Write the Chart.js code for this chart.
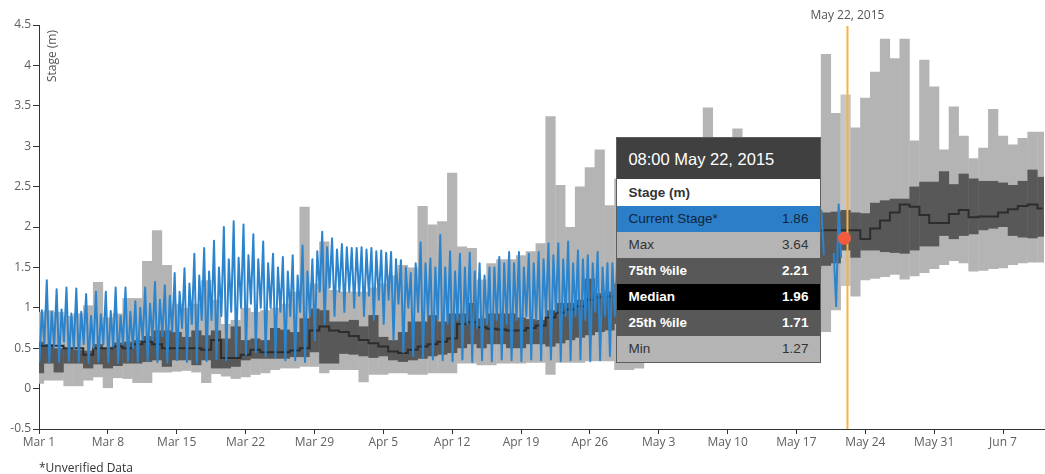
<!DOCTYPE html>
<html>
<head>
<meta charset="utf-8">
<script src="https://cdn.jsdelivr.net/npm/chart.js@4.4.1/dist/chart.umd.min.js"></script>
<style>
    html, body { margin: 0; padding: 0; background: #fff; }
    #wrap { position: relative; width: 1045px; height: 474px; }
    #stageTip {
        position: absolute; display: none; width: 203px;
        border: 1px solid #5e5e5e; background: #fff;
        font-family: "Liberation Sans", Arial, sans-serif; font-size: 13.5px;
    }
    #stageTip .head { background: #404040; color: #fff; font-size: 16.5px; height: 41px; line-height: 43px; padding-left: 11px; }
    #stageTip .unit { background: #fff; color: #333; font-weight: bold; height: 27px; line-height: 27px; padding-left: 11px; }
    #stageTip .row { display: flex; justify-content: space-between; height: 26px; line-height: 26px; padding: 0 12px 0 11px; }
    #stageTip .cur { background: #2b7fc9; color: #13243a; }
    #stageTip .light { background: #b4b4b4; color: #333; }
    #stageTip .dark { background: #585858; color: #fff; font-weight: bold; }
    #stageTip .black { background: #000; color: #fff; font-weight: bold; }
</style>
</head>
<body>
<div id="wrap">
    <canvas id="stageChart" width="1045" height="474"></canvas>
    <div id="stageTip"></div>
</div>
<script>
// daily statistics, one value per day starting Mar 1 2015 (m)
const maxStage = [
    0.95, 0.97, 0.95, 0.9, 0.93, 1.03, 1.32, 0.88, 0.93, 1.12,
    1.12, 1.58, 1.96, 1.53, 1.05, 1.0, 1.05, 1.34, 1.1, 0.8,
    0.85, 1.0, 0.95, 0.97, 1.0, 1.05, 1.2, 2.25, 1.3, 1.82,
    1.22, 1.2, 1.2, 1.2, 1.25, 1.3, 1.4, 1.53, 1.5, 2.26,
    2.03, 2.07, 2.67, 1.76, 1.74, 1.35, 1.55, 1.6, 1.6, 1.65,
    1.7, 1.8, 3.37, 2.52, 2.0, 2.5, 2.74, 2.96, 2.27, 2.6,
    2.4, 2.8, 2.5, 2.3, 2.9, 2.6, 2.4, 2.7, 3.48, 2.9,
    2.6, 3.22, 2.8, 2.5, 2.6, 2.9, 2.7, 2.8, 3.0, 2.9,
    4.14, 3.41, 3.64, 3.23, 3.6, 3.92, 4.33, 4.09, 4.33, 3.07,
    4.07, 3.74, 2.96, 3.49, 3.13, 2.85, 2.98, 3.46, 3.13, 3.02,
    3.1, 3.18, 3.18
];
const p75Stage = [
    0.58, 0.55, 0.5, 0.5, 0.48, 0.47, 0.55, 0.5, 0.57, 0.58,
    0.6, 0.65, 0.72, 0.72, 0.7, 0.64, 0.72, 0.66, 0.72, 0.62,
    0.77, 0.6, 0.62, 0.6, 0.75, 0.73, 0.7, 0.87, 0.99, 0.97,
    0.83, 0.83, 0.85, 0.77, 0.91, 0.64, 0.6, 0.7, 0.83, 0.83,
    0.91, 0.83, 0.93, 0.93, 1.06, 0.87, 0.93, 0.93, 0.93, 0.88,
    0.86, 0.85, 0.97, 1.06, 1.06, 1.1, 1.36, 1.18, 1.2, 1.3,
    1.35, 1.4, 1.45, 1.5, 1.55, 1.6, 1.6, 1.65, 1.75, 1.8,
    1.8, 1.9, 1.95, 1.95, 2.0, 2.05, 2.1, 2.1, 2.15, 2.2,
    2.18, 2.19, 2.21, 2.18, 2.17, 2.3, 2.33, 2.35, 2.35, 2.5,
    2.56, 2.56, 2.69, 2.53, 2.66, 2.6, 2.57, 2.57, 2.55, 2.52,
    2.57, 2.71, 2.62
];
const medianStage = [
    0.53, 0.53, 0.53, 0.5, 0.5, 0.42, 0.5, 0.5, 0.52, 0.5,
    0.55, 0.58, 0.55, 0.5, 0.5, 0.5, 0.5, 0.48, 0.6, 0.38,
    0.38, 0.42, 0.48, 0.45, 0.45, 0.45, 0.47, 0.5, 0.72, 0.77,
    0.72, 0.7, 0.65, 0.6, 0.56, 0.52, 0.46, 0.44, 0.48, 0.52,
    0.55, 0.58, 0.62, 0.8, 0.82, 0.76, 0.74, 0.73, 0.72, 0.72,
    0.75, 0.78, 0.88, 0.94, 0.98, 1.02, 1.1, 1.13, 1.14, 1.15,
    1.18, 1.2, 1.25, 1.3, 1.35, 1.38, 1.4, 1.45, 1.5, 1.55,
    1.6, 1.65, 1.7, 1.72, 1.75, 1.8, 1.85, 1.88, 1.92, 1.95,
    1.96, 1.96, 1.96, 1.96, 1.85, 1.98, 2.08, 2.18, 2.28, 2.25,
    2.15, 2.05, 2.05, 2.16, 2.21, 2.12, 2.13, 2.13, 2.18, 2.22,
    2.26, 2.28, 2.23
];
const p25Stage = [
    0.19, 0.31, 0.2, 0.31, 0.31, 0.25, 0.3, 0.25, 0.28, 0.31,
    0.31, 0.33, 0.35, 0.27, 0.35, 0.35, 0.29, 0.35, 0.25, 0.25,
    0.27, 0.35, 0.37, 0.37, 0.37, 0.37, 0.39, 0.39, 0.45, 0.31,
    0.31, 0.43, 0.42, 0.4, 0.38, 0.4, 0.35, 0.33, 0.35, 0.37,
    0.4, 0.42, 0.44, 0.5, 0.55, 0.5, 0.55, 0.55, 0.5, 0.5,
    0.55, 0.55, 0.52, 0.56, 0.6, 0.63, 0.66, 0.7, 0.72, 0.8,
    0.85, 0.9, 0.95, 1.0, 1.02, 1.05, 1.1, 1.12, 1.15, 1.2,
    1.22, 1.25, 1.3, 1.32, 1.35, 1.38, 1.4, 1.42, 1.45, 1.48,
    1.52, 1.55, 1.71, 1.62, 1.71, 1.71, 1.69, 1.68, 1.67, 1.71,
    1.76, 1.76, 1.89, 1.85, 1.89, 1.91, 1.96, 1.98, 2.0, 1.89,
    1.87, 1.86, 1.88
];
const minStage = [
    0.06, 0.1, 0.1, 0.03, 0.03, 0.1, 0.14, 0.0, 0.13, 0.12,
    0.07, 0.07, 0.2, 0.2, 0.21, 0.22, 0.2, 0.07, 0.18, 0.15,
    0.12, 0.14, 0.17, 0.19, 0.23, 0.25, 0.25, 0.27, 0.27, 0.19,
    0.23, 0.23, 0.23, 0.08, 0.17, 0.17, 0.19, 0.19, 0.17, 0.17,
    0.19, 0.19, 0.19, 0.31, 0.31, 0.29, 0.29, 0.31, 0.31, 0.31,
    0.32, 0.32, 0.17, 0.32, 0.32, 0.32, 0.34, 0.34, 0.34, 0.23,
    0.23, 0.25, 0.36, 0.38, 0.4, 0.42, 0.42, 0.45, 0.45, 0.48,
    0.5, 0.5, 0.52, 0.55, 0.55, 0.58, 0.6, 0.62, 0.65, 0.68,
    0.7, 0.97, 1.27, 1.14, 1.34, 1.36, 1.38, 1.41, 1.35, 1.39,
    1.43, 1.48, 1.53, 1.58, 1.55, 1.45, 1.46, 1.48, 1.49, 1.53,
    1.55, 1.56, 1.56
];

// current stage readings: four per day (01:00, 07:00, 13:00, 19:00)
const readHours = [1, 7, 13, 19];
const tideLowA = [
    0.33, 0.32, 0.33, 0.34, 0.33, 0.32, 0.34, 0.33, 0.32, 0.34,
    0.33, 0.34, 0.33, 0.32, 0.35, 0.33, 0.32, 0.34, 0.36, 0.35,
    0.4, 0.42, 0.45, 0.4, 0.38, 0.35, 0.35, 0.33, 0.6, 0.8,
    0.9, 0.95, 1.0, 0.9, 0.85, 0.8, 0.6, 0.45, 0.4, 0.38,
    0.36, 0.35, 0.34, 0.36, 0.33, 0.35, 0.34, 0.36, 0.35, 0.34,
    0.36, 0.35, 0.36, 0.34, 0.35, 0.36, 0.34, 0.35, 0.4, 0.45,
    0.5, 0.55, 0.5, 0.6, 0.65, 0.6, 0.7, 0.75, 0.7, 0.8,
    0.8, 0.85, 0.8, 0.9, 0.95, 0.9, 1.0, 0.95, 1.05, 1.2,
    null, 1.02
];
const tideHighB = [
    0.97, 0.95, 0.98, 0.93, 0.95, 0.9, 0.92, 0.96, 0.9, 0.95,
    1.0, 1.05, 1.1, 1.15, 1.2, 1.3, 1.4, 1.45, 1.5, 1.6,
    1.62, 1.65, 1.6, 1.55, 1.5, 1.45, 1.4, 1.45, 1.7, 1.75,
    1.72, 1.75, 1.74, 1.72, 1.7, 1.68, 1.6, 1.5, 1.55, 1.55,
    1.5, 1.5, 1.45, 1.5, 1.45, 1.4, 1.5, 1.55, 1.55, 1.5,
    1.55, 1.6, 1.65, 1.6, 1.55, 1.6, 1.55, 1.5, 1.55, 1.6,
    1.65, 1.7, 1.6, 1.75, 1.8, 1.7, 1.85, 1.9, 1.8, 1.95,
    1.9, 2.0, 1.85, 1.95, 2.0, 2.0, 2.1, 2.0, 2.1, 1.9,
    null, 2.28
];
const tideLowB = [
    0.55, 0.52, 0.58, 0.5, 0.55, 0.5, 0.55, 0.52, 0.55, 0.5,
    0.6, 0.6, 0.65, 0.7, 0.75, 0.8, 0.85, 0.85, 0.9, 0.95,
    1.0, 1.05, 1.0, 1.0, 0.95, 0.9, 0.95, 0.9, 1.2, 1.25,
    1.2, 1.2, 1.15, 1.15, 1.1, 1.1, 1.05, 1.0, 0.95, 0.9,
    0.85, 0.8, 0.85, 0.8, 0.75, 0.8, 0.85, 0.8, 0.85, 0.9,
    0.85, 0.9, 0.95, 0.9, 0.9, 0.85, 0.95, 0.9, 0.9, 0.9,
    0.95, 1.0, 0.95, 1.05, 1.1, 1.05, 1.15, 1.2, 1.15, 1.25,
    1.25, 1.3, 1.25, 1.35, 1.4, 1.35, 1.45, 1.4, 1.5, 2.2,
    null, 1.62
];
const tideHighA = [
    1.34, 1.23, 1.25, 1.24, 1.17, 1.2, 1.2, 1.25, 1.25, 1.08,
    1.25, 1.32, 1.28, 1.43, 1.49, 1.67, 1.74, 1.83, 2.0, 2.07,
    2.03, 1.91, 1.82, 1.67, 1.63, 1.65, 1.77, 1.6, 1.94, 1.86,
    1.79, 1.74, 1.75, 1.74, 1.71, 1.69, 1.59, 1.43, 1.81, 1.61,
    1.9, 1.7, 1.67, 1.68, 1.55, 1.5, 1.63, 1.69, 1.69, 1.67,
    1.69, 1.8, 1.8, 1.82, 1.71, 1.65, 1.69, 1.55, 1.6, 1.8,
    1.85, 1.9, 1.8, 1.95, 2.0, 1.9, 2.05, 2.1, 2.0, 2.15,
    2.1, 2.2, 2.05, 2.15, 2.25, 2.2, 2.3, 2.2, 2.3, 1.65,
    1.68, null
];

const tickLabels = ["Mar 1", "Mar 8", "Mar 15", "Mar 22", "Mar 29", "Apr 5", "Apr 12",
    "Apr 19", "Apr 26", "May 3", "May 10", "May 17", "May 24", "May 31", "Jun 7"];
const yTicks = [-0.5, 0, 0.5, 1, 1.5, 2, 2.5, 3, 3.5, 4, 4.5];

const currentStage = 1.86;
const currentLabel = "08:00 May 22, 2015";
const markerLabel = "May 22, 2015";

const monthIdx = {Mar: 2, Apr: 3, May: 4, Jun: 5};
function dayOf(label) {
    const [m, d] = label.split(" ");
    return (Date.UTC(2015, monthIdx[m], +d) - Date.UTC(2015, 2, 1)) / 86400000;
}

const tickDays = tickLabels.map(dayOf);
const currentDay = dayOf("May 21") + 21 / 24;
const markerDay = dayOf("May 22") + 4.5 / 24;
const axisEndDay = dayOf("Jun 11") + 4 / 24;
const hoverDay = Math.round(currentDay);

const days = maxStage.map((v, i) => i);
const rangeBars = days.map(d => ({x: d, y: [minStage[d], maxStage[d]]}));
const iqrBars = days.map(d => ({x: d, y: [p25Stage[d], p75Stage[d]]}));
const medianLine = days.map(d => ({x: d, y: medianStage[d]}));

const stagePoints = [];
for (let d = 0; d < tideHighA.length; d++) {
    [tideLowA[d], tideHighB[d], tideLowB[d], tideHighA[d]].forEach((v, k) => {
        stagePoints.push({x: d + readHours[k] / 24, y: v});
    });
}
stagePoints.push({x: currentDay, y: currentStage});

// empty ends keep the dot's radius out of the layout padding
const currentPoint = [{x: 0, y: null}, {x: currentDay, y: currentStage}, {x: axisEndDay, y: null}];

function renderTip(context) {
    const {tooltip} = context;
    const tip = document.getElementById("stageTip");
    if (tooltip.opacity === 0) {
        tip.style.display = "none";
        return;
    }
    const d = hoverDay;
    const rows = [
        ["cur", "Current Stage*", currentStage],
        ["light", "Max", maxStage[d]],
        ["dark", "75th %ile", p75Stage[d]],
        ["black", "Median", medianStage[d]],
        ["dark", "25th %ile", p25Stage[d]],
        ["light", "Min", minStage[d]],
    ];
    tip.innerHTML = `<div class="head">${currentLabel}</div><div class="unit">Stage (m)</div>` +
        rows.map(r => `<div class="row ${r[0]}"><span>${r[1]}</span><span>${r[2].toFixed(2)}</span></div>`).join("");
    tip.style.display = "block";
    tip.style.left = (tooltip.caretX - tip.offsetWidth - 23) + "px";
    tip.style.top = (tooltip.caretY - 101) + "px";
}

const overlay = {
    id: "overlay",
    afterDatasetDraw(chart, args) {
        if (args.index !== 1) return;
        const {ctx, chartArea, scales: {x}} = chart;
        const px = x.getPixelForValue(markerDay);
        ctx.save();
        ctx.strokeStyle = "#f6b33e";
        ctx.lineWidth = 2;
        ctx.beginPath();
        ctx.moveTo(px, chartArea.top + 1);
        ctx.lineTo(px, chartArea.bottom);
        ctx.stroke();
        ctx.restore();
    },
    afterDraw(chart) {
        const {ctx, chartArea, scales: {x}} = chart;
        ctx.save();
        ctx.font = "12px 'Open Sans'";
        ctx.fillStyle = "#555";
        ctx.textAlign = "center";
        ctx.fillText(markerLabel, x.getPixelForValue(markerDay), 19);

        ctx.textAlign = "left";
        ctx.fillStyle = "#333";
        ctx.fillText("*Unverified Data", chartArea.left, 472);

        ctx.translate(chartArea.left + 17, chartArea.top + 5);
        ctx.rotate(-Math.PI / 2);
        ctx.textAlign = "right";
        ctx.fillStyle = "#555";
        ctx.fillText("Stage (m)", 0, 0);
        ctx.restore();
    }
};

Chart.defaults.font.family = "'Open Sans', 'DejaVu Sans', sans-serif";
Chart.defaults.font.size = 12;

const chart = new Chart(document.getElementById("stageChart"), {
    type: "bar",
    data: {
        datasets: [
            {
                type: "line", label: "Current", data: currentPoint, showLine: false,
                pointRadius: c => (c.raw && c.raw.y != null) ? 6.5 : 0, pointHoverRadius: 0,
                pointBackgroundColor: "#f15c3e", pointBorderWidth: 0
            },
            {
                type: "line", label: "Current Stage*", data: stagePoints,
                borderColor: "#2c84cd", borderWidth: 2, pointRadius: 0, pointHoverRadius: 0,
                tension: 0, spanGaps: false, borderJoinStyle: "round"
            },
            {
                type: "line", label: "Median", data: medianLine, stepped: "middle",
                borderColor: "#2d2d2d", borderWidth: 2, pointRadius: 0, pointHoverRadius: 0
            },
            {
                label: "25th-75th %ile", data: iqrBars, backgroundColor: "#585858",
                grouped: false, barPercentage: 1.04, categoryPercentage: 1
            },
            {
                label: "Min-Max", data: rangeBars,
                backgroundColor: c => (c.raw && c.raw.x === hoverDay) ? "#c6c6c6" : "#b4b4b4",
                grouped: false, barPercentage: 1.04, categoryPercentage: 1
            }
        ]
    },
    options: {
        responsive: false,
        animation: false,
        devicePixelRatio: 1,
        events: [],
        layout: {padding: {top: 25, right: 1, left: 0, bottom: 0}},
        plugins: {
            legend: {display: false},
            tooltip: {enabled: false, external: renderTip}
        },
        scales: {
            x: {
                type: "linear", min: 0, max: axisEndDay, offset: false,
                afterBuildTicks: s => { s.ticks = tickDays.map(v => ({value: v})); },
                afterFit: s => { s.height = 45; s.paddingLeft = 0; s.paddingRight = 0; },
                ticks: {
                    callback: (v, i) => tickLabels[i], color: "#606060",
                    padding: 1, maxRotation: 0, autoSkip: false
                },
                grid: {drawOnChartArea: false, drawTicks: true, tickLength: 5, color: "#333", offset: false},
                border: {color: "#333", width: 1}
            },
            y: {
                min: -0.5, max: 4.5,
                afterBuildTicks: s => { s.ticks = yTicks.map(v => ({value: v})); },
                afterFit: s => { s.width = 39; s.paddingTop = 0; s.paddingBottom = 0; },
                ticks: {callback: v => String(v), color: "#606060", padding: 2},
                grid: {drawOnChartArea: false, drawTicks: true, tickLength: 6, color: "#333"},
                border: {color: "#333", width: 1}
            }
        }
    },
    plugins: [overlay]
});

chart.tooltip.setActiveElements([{datasetIndex: 0, index: 1}], {x: 0, y: 0});
</script>
</body>
</html>
